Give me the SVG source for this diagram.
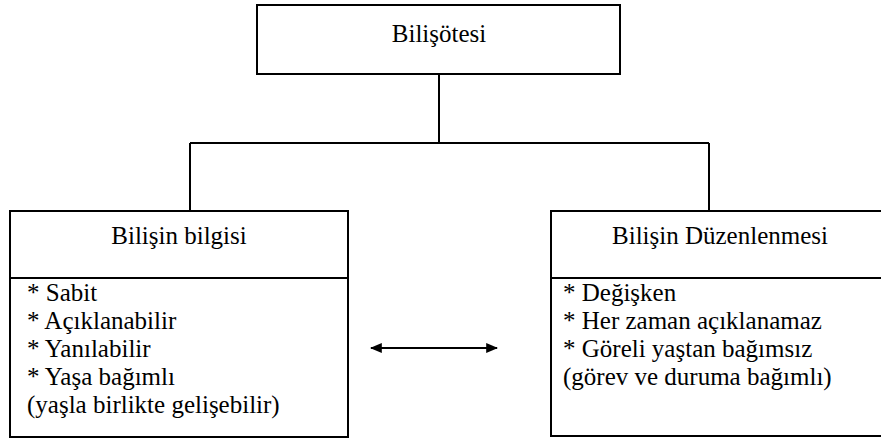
<svg xmlns="http://www.w3.org/2000/svg" width="881" height="438" viewBox="0 0 881 438">
  <style>
    .box { fill: #ffffff; stroke: #000000; stroke-width: 2; }
    .rule { stroke: #000000; stroke-width: 2; fill: none; }
    .wire { stroke: #000000; stroke-width: 2; fill: none; }
    text { font-family: 'Liberation Serif', 'Times New Roman', serif; font-size: 25px; fill: #000000; }
    .title { text-anchor: middle; }
  </style>
  <defs>
    <marker id="head" viewBox="0 0 10 10" refX="9" refY="5" markerWidth="12" markerHeight="10" markerUnits="userSpaceOnUse" orient="auto-start-reverse" preserveAspectRatio="none">
      <path d="M0,0 L10,5 L0,10 z" fill="#000000"/>
    </marker>
  </defs>
  <rect width="881" height="438" fill="#ffffff"/>

  <!-- tree connectors and the two-way link between the branches -->
  <g id="connectors">
    <path class="wire" d="M439,74 V143"/>
    <path class="wire" d="M190,143 H709"/>
    <path class="wire" d="M190,143 V211"/>
    <path class="wire" d="M709,143 V211"/>
    <path d="M371,348 H497" stroke="#000000" stroke-width="2" fill="none" marker-start="url(#head)" marker-end="url(#head)"/>
  </g>

  <g id="root">
    <rect class="box" x="257" y="5" width="363" height="69"/>
    <text class="title" x="439" y="42">Bilişötesi</text>
  </g>

  <g id="knowledge">
    <rect class="box" x="10" y="211" width="338" height="226"/>
    <line class="rule" x1="10" y1="278" x2="348" y2="278"/>
    <text class="title" x="179" y="244">Bilişin bilgisi</text>
    <text x="27" y="301">* Sabit</text>
    <text x="27" y="329">* Açıklanabilir</text>
    <text x="27" y="357">* Yanılabilir</text>
    <text x="27" y="385">* Yaşa bağımlı</text>
    <text x="27" y="413">(yaşla birlikte gelişebilir)</text>
  </g>

  <g id="regulation">
    <rect class="box" x="551" y="211" width="340" height="225"/>
    <line class="rule" x1="551" y1="278" x2="881" y2="278"/>
    <text class="title" x="720" y="244">Bilişin Düzenlenmesi</text>
    <text x="563" y="301">* Değişken</text>
    <text x="563" y="329">* Her zaman açıklanamaz</text>
    <text x="563" y="357">* Göreli yaştan bağımsız</text>
    <text x="563" y="385">(görev ve duruma bağımlı)</text>
  </g>
</svg>
